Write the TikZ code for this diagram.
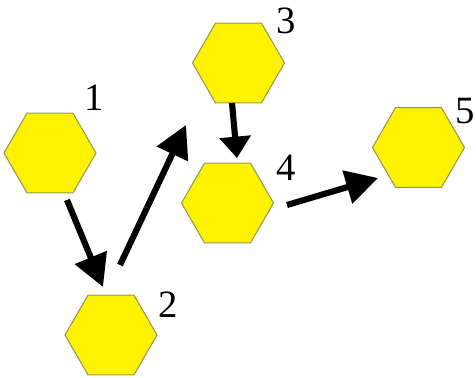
\documentclass[tikz,border=0pt]{standalone}
\usepackage{fontspec}
\setmainfont{Liberation Serif}
\usetikzlibrary{shapes.geometric,arrows.meta}
\tikzset{
  hexa/.style={regular polygon, regular polygon sides=6, minimum size=69pt, inner sep=0pt,
    fill=yellow, draw={rgb,255:red,150;green,150;blue,90}, line width=0.8pt},
  numlabel/.style={font=\fontsize{29}{30}\selectfont, inner sep=0pt},
  arr/.style={line width=4.6pt, -{Triangle[length=24pt,width=25pt]}},
  arrshort/.style={line width=4.6pt, -{Triangle[length=16pt,width=23pt]}}
}
\begin{document}
\begin{tikzpicture}[x=0.75pt,y=-0.75pt]
\useasboundingbox (0,0) rectangle (476,378);
\node[hexa] (n1) at (50,153) {};
\node[hexa] (n2) at (111,335) {};
\node[hexa] (n3) at (238.5,63) {};
\node[hexa] (n4) at (227.5,203) {};
\node[hexa] (n5) at (418.5,147.5) {};
\node[numlabel] (l1) at (94,98) {1};
\node[numlabel] (l2) at (168,305) {2};
\node[numlabel] (l3) at (286,21) {3};
\node[numlabel] (l4) at (286,168) {4};
\node[numlabel] (l5) at (465,111) {5};
\coordinate (a1s) at (67,200);
\coordinate (a1e) at (103,287);
\coordinate (a2s) at (120,265);
\coordinate (a2e) at (186,125);
\coordinate (a3s) at (232,103);
\coordinate (a3e) at (237,158);
\coordinate (a4s) at (287,205);
\coordinate (a4e) at (378,178);
\draw[arr] (a1s) -- (a1e);
\draw[arr] (a2s) -- (a2e);
\draw[arrshort] (a3s) -- (a3e);
\draw[arr] (a4s) -- (a4e);
\end{tikzpicture}
\end{document}
